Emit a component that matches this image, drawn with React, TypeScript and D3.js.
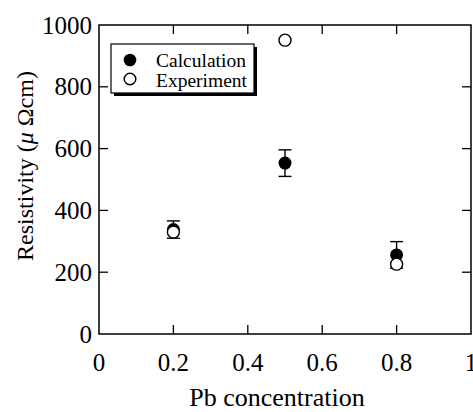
import React from "react";
import * as d3 from "d3";

// Pb concentration at each sample
const concentration = [0.2, 0.5, 0.8];
// Calculated resistivity (μΩcm) with its uncertainty
const calculation = [338, 553, 256];
const calculationError = [28, 43, 43];
// Measured resistivity (μΩcm)
const experiment = [330, 951, 226];

const xTicks = [0, 0.2, 0.4, 0.6, 0.8, 1];
const xTickLabels = ["0", "0.2", "0.4", "0.6", "0.8", "1"];
const yTicks = [0, 200, 400, 600, 800, 1000];
const yTickLabels = ["0", "200", "400", "600", "800", "1000"];

const W = 473;
const H = 412;
const left = 99;
const right = 471;
const top = 25;
const bottom = 334;
const font = "Times New Roman, Liberation Serif, Tinos, serif";

export default function App() {
  const x = d3.scaleLinear().domain([0, 1]).range([left, right]);
  const y = d3.scaleLinear().domain([0, 1000]).range([bottom, top]);
  const tickLen = 9;
  const cap = 6.5;

  return (
    <svg
      width={W}
      height={H}
      style={{ position: "absolute", left: 0, top: 0, background: "#fff", fontFamily: font }}
    >
      <rect x={0} y={0} width={W} height={H} fill="#fff" />

      {/* frame */}
      <rect
        x={left}
        y={top}
        width={right - left}
        height={bottom - top}
        fill="none"
        stroke="#000"
        strokeWidth={1.5}
      />

      {/* x ticks, top and bottom, pointing inward */}
      {xTicks.slice(1, -1).map((t) => (
        <g key={`xt${t}`} stroke="#000" strokeWidth={1.3}>
          <line x1={x(t)} x2={x(t)} y1={bottom} y2={bottom - tickLen} />
          <line x1={x(t)} x2={x(t)} y1={top} y2={top + tickLen} />
        </g>
      ))}
      {/* y ticks, left and right, pointing inward */}
      {yTicks.slice(1, -1).map((t) => (
        <g key={`yt${t}`} stroke="#000" strokeWidth={1.3}>
          <line x1={left} x2={left + tickLen} y1={y(t)} y2={y(t)} />
          <line x1={right} x2={right - tickLen} y1={y(t)} y2={y(t)} />
        </g>
      ))}

      {/* tick labels */}
      {xTicks.map((t, i) => (
        <text
          key={`xl${t}`}
          x={x(t)}
          y={370.5}
          fontSize={25}
          textAnchor="middle"
          fill="#000"
        >
          {xTickLabels[i]}
        </text>
      ))}
      {yTicks.map((t, i) => (
        <text
          key={`yl${t}`}
          x={92}
          y={y(t) + 8.5}
          fontSize={25}
          textAnchor="end"
          fill="#000"
        >
          {yTickLabels[i]}
        </text>
      ))}

      {/* axis titles */}
      <text x={277} y={406} fontSize={26} textAnchor="middle" fill="#000">
        Pb concentration
      </text>
      <text
        transform={`translate(33, 166) rotate(-90)`}
        fontSize={24}
        textAnchor="middle"
        fill="#000"
      >
        Resistivity (<tspan fontStyle="italic">μ</tspan> Ωcm)
      </text>

      {/* calculation: error bars and filled markers */}
      {concentration.map((c, i) => {
        const cx = x(c);
        const hi = y(calculation[i] + calculationError[i]);
        const lo = y(calculation[i] - calculationError[i]);
        return (
          <g key={`err${i}`} stroke="#000" strokeWidth={1.4}>
            <line x1={cx} x2={cx} y1={hi} y2={lo} />
            <line x1={cx - cap} x2={cx + cap} y1={hi} y2={hi} />
            <line x1={cx - cap} x2={cx + cap} y1={lo} y2={lo} />
          </g>
        );
      })}
      {concentration.map((c, i) => (
        <circle key={`calc${i}`} cx={x(c)} cy={y(calculation[i])} r={6.5} fill="#000" />
      ))}

      {/* experiment: open markers */}
      {concentration.map((c, i) => (
        <circle
          key={`exp${i}`}
          cx={x(c)}
          cy={y(experiment[i])}
          r={6}
          fill="#fff"
          stroke="#000"
          strokeWidth={1.4}
        />
      ))}

      {/* legend with drop shadow */}
      <rect x={114} y={47} width={143} height={49} fill="#000" />
      <rect x={111} y={44} width={143} height={49} fill="#fff" stroke="#000" strokeWidth={1.2} />
      <circle cx={130} cy={60} r={6.3} fill="#000" />
      <circle cx={130} cy={79} r={5.8} fill="#fff" stroke="#000" strokeWidth={1.4} />
      <text x={156} y={67} fontSize={19.5} fill="#000">
        Calculation
      </text>
      <text x={156} y={86.5} fontSize={19.5} fill="#000">
        Experiment
      </text>
    </svg>
  );
}
